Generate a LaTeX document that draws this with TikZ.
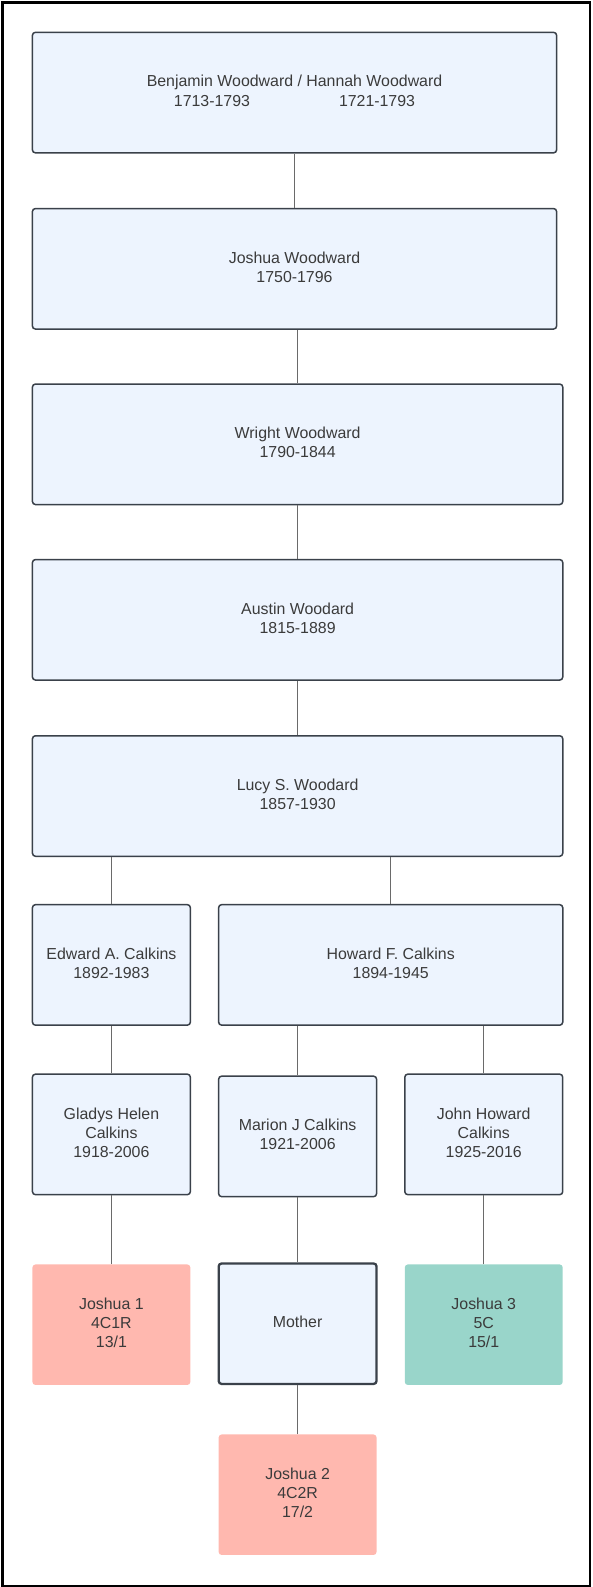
\documentclass[tikz,border=0pt]{standalone}
\usepackage{fontspec}
\setmainfont{Liberation Sans}
\definecolor{boxfill}{HTML}{EDF4FE}
\definecolor{boxline}{HTML}{3A414A}
\definecolor{pinkfill}{HTML}{FFB8AF}
\definecolor{tealfill}{HTML}{99D5CA}
\definecolor{txt}{HTML}{3B3B3B}
\definecolor{conn}{HTML}{6A6A6A}
\newcommand\boxtext[1]{\raisebox{2.5pt}{\begin{tabular}{@{}c@{}}#1\end{tabular}}}
\begin{document}
\begin{tikzpicture}[x=1pt,y=-1pt,
  base/.style={rectangle, rounded corners=3pt, inner sep=0pt, minimum height=120.5pt,
    align=center, text=txt, font=\fontsize{15.9}{19.2}\selectfont},
  person/.style={base, draw=boxline, line width=1.5pt, fill=boxfill},
  motherbox/.style={person, line width=2.3pt},
  pinkbox/.style={base, fill=pinkfill},
  tealbox/.style={base, fill=tealfill},
  topwide/.style={minimum width=524.2pt},
  wide/.style={minimum width=530.3pt},
  midwide/.style={minimum width=344.1pt},
  narrow/.style={minimum width=157.9pt},
  link/.style={draw=conn, line width=1pt}]
\useasboundingbox (0,0) rectangle (592,1587);
\draw[line width=2.7pt] (2.5,2.2) rectangle (590,1586);

\node[person, topwide] (ben) at (294.5,92.6) {\boxtext{Benjamin Woodward / Hannah Woodward\\1713-1793\hspace{89pt}1721-1793}};
\node[person, topwide] (joshw) at (294.5,268.8) {\boxtext{Joshua Woodward\\1750-1796}};
\node[person, wide] (wright) at (297.6,444.3) {\boxtext{Wright Woodward\\1790-1844}};
\node[person, wide] (austin) at (297.6,619.8) {\boxtext{Austin Woodard\\1815-1889}};
\node[person, wide] (lucy) at (297.6,796) {\boxtext{Lucy S. Woodard\\1857-1930}};
\node[person, narrow] (edward) at (111.4,964.9) {\boxtext{Edward A. Calkins\\1892-1983}};
\node[person, midwide] (howard) at (390.7,964.9) {\boxtext{Howard F. Calkins\\1894-1945}};
\node[person, narrow] (gladys) at (111.4,1134.4) {\boxtext{Gladys Helen\\Calkins\\1918-2006}};
\node[person, narrow] (marion) at (297.6,1136.4) {\boxtext{Marion J Calkins\\1921-2006}};
\node[person, narrow] (john) at (483.75,1134.4) {\boxtext{John Howard\\Calkins\\1925-2016}};
\node[pinkbox, narrow] (j1) at (111.4,1324.7) {\boxtext{Joshua 1\\4C1R\\13/1}};
\node[motherbox, narrow] (mother) at (297.6,1323.7) {\boxtext{Mother}};
\node[tealbox, narrow] (j3) at (483.75,1324.7) {\boxtext{Joshua 3\\5C\\15/1}};
\node[pinkbox, narrow] (j2) at (297.6,1494.7) {\boxtext{Joshua 2\\4C2R\\17/2}};

\foreach \p/\c in {ben/joshw, joshw/wright, wright/austin, austin/lucy, lucy/edward, lucy/howard,
  edward/gladys, howard/marion, howard/john, gladys/j1, marion/mother, john/j3, mother/j2}
  \draw[link] (\c.north) -- (\c.north |- \p.south);
\end{tikzpicture}
\end{document}
